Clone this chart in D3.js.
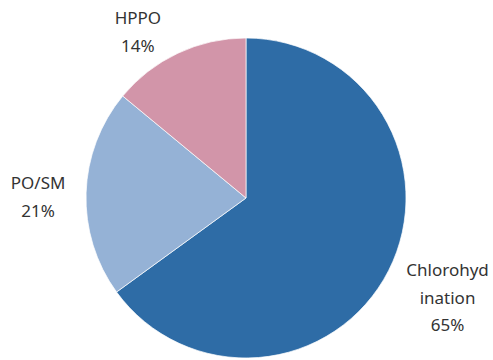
<!DOCTYPE html>
<html>
<head>
<meta charset="utf-8">
<script src="https://cdn.jsdelivr.net/npm/d3@7"></script>
<style>
  body { margin: 0; background: #fff; }
  svg text { font-family: "Noto Sans", sans-serif; font-size: 17px; fill: #333; }
</style>
</head>
<body>
<svg id="chart" width="493" height="360"></svg>
<script>
const categories = ["Chlorohydination", "PO/SM", "HPPO"];
const values = [65, 21, 14];
const labelLines = [["Chlorohyd", "ination", "65%"], ["PO/SM", "21%"], ["HPPO", "14%"]];
const colors = ["#2e6ca6", "#95b2d6", "#d295a9"];

function draw() {
    let svg = d3.select("#chart");
    let cx = 246, cy = 198, r = 160;
    // shift of each label block from the slice's outer edge midpoint
    let labelShift = [[59, 27], [-48, 4], [-40, -21]];

    let pie = d3.pie().sort(null).value(function(d) { return d; });
    let arcs = pie(values);
    let arc = d3.arc().innerRadius(0).outerRadius(r);

    let g = svg.append("g").attr("transform", "translate(" + cx + "," + cy + ")");
    g.selectAll("path")
        .data(arcs)
        .enter().append("path")
        .attr("d", arc)
        .attr("fill", function(d, i) { return colors[i]; })
        .attr("stroke", "#fff")
        .attr("stroke-width", 0.7);

    let lineH = 27.5;
    arcs.forEach(function(d, i) {
        let a = (d.startAngle + d.endAngle) / 2;
        let x = Math.sin(a) * r + labelShift[i][0];
        let y = -Math.cos(a) * r + labelShift[i][1];
        let lines = labelLines[i];
        let t = g.append("text").attr("text-anchor", "middle");
        let y0 = y - (lines.length - 1) * lineH / 2 + 6;
        lines.forEach(function(s, j) {
            t.append("tspan").attr("x", x).attr("y", y0 + j * lineH).text(s);
        });
    });
}

document.addEventListener("DOMContentLoaded", draw);
</script>
</body>
</html>
